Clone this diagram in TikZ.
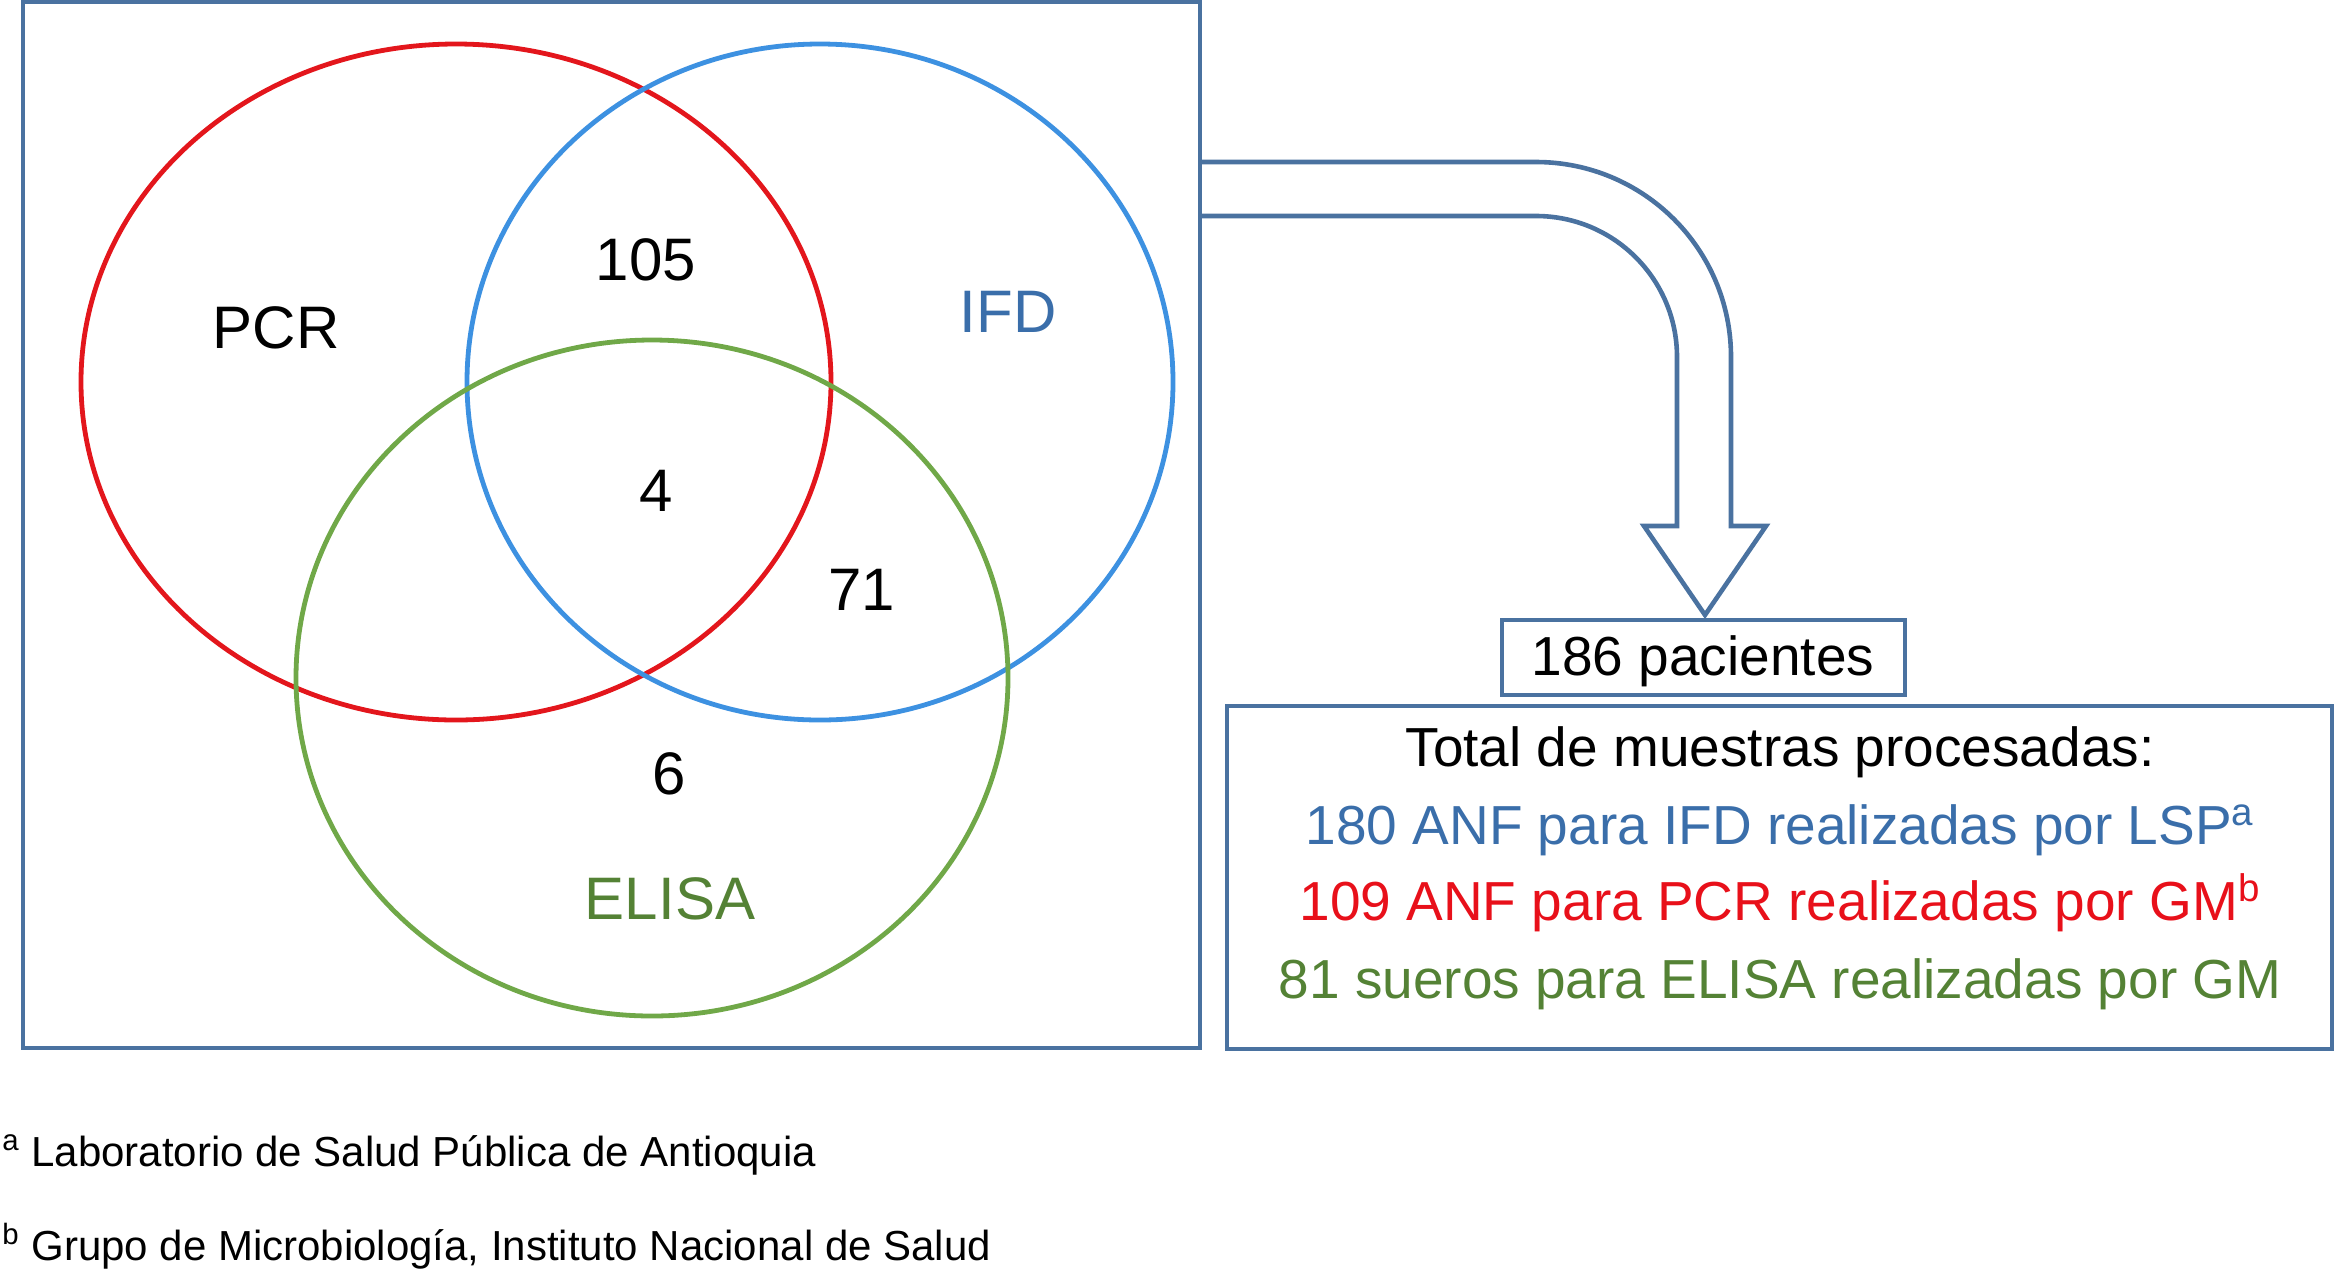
\documentclass[tikz,border=0pt]{standalone}
\usepackage{fontspec}
\setmainfont{Liberation Sans}
\usetikzlibrary{fit}
\definecolor{boxcol}{HTML}{4A72A0}
\definecolor{pcrred}{HTML}{E3161C}
\definecolor{ifdblue}{HTML}{3D91E1}
\definecolor{elisagreen}{HTML}{70A848}
\definecolor{ifdtext}{HTML}{3A6EAA}
\definecolor{pcrtext}{HTML}{E8101A}
\definecolor{elisatext}{HTML}{548235}
\tikzset{
  vennring/.style={line width=2.4pt},
  framebox/.style={draw=boxcol, line width=2.4pt, inner sep=0pt},
  venntxt/.style={font=\fontsize{30}{36}\selectfont, anchor=base, inner sep=0pt},
  boxtxt/.style={font=\fontsize{27.5}{33}\selectfont, anchor=base, inner sep=0pt},
  foottxt/.style={font=\fontsize{21}{25}\selectfont, anchor=base west, inner sep=0pt},
  bigarrow/.style={draw=boxcol, line width=2.3pt, line join=miter}
}
\begin{document}
\begin{tikzpicture}[x=0.5pt,y=-0.5pt]
\useasboundingbox (0,0) rectangle (2336,1271);
% frames
\node[framebox, fit={(23,2) (1200,1048)}] (vennbox) {};
\node[framebox, fit={(1502,620) (1905,695)}] (countbox) {};
\node[framebox, fit={(1227,706) (2332,1049)}] (totalbox) {};
% Venn rings
\draw[vennring, draw=pcrred] (456,382) ellipse [x radius=375, y radius=338];
\draw[vennring, draw=ifdblue] (820,382) ellipse [x radius=353, y radius=338];
\draw[vennring, draw=elisagreen] (652,678) ellipse [x radius=356, y radius=338];
% Venn labels
\node[venntxt] (pcr) at (276,348) {PCR};
\node[venntxt] (n105) at (646,280) {105};
\node[venntxt, text=ifdtext] (ifd) at (1008,332) {IFD};
\node[venntxt] (n4) at (656,511) {4};
\node[venntxt] (n71) at (862,610) {71};
\node[venntxt] (n6) at (669,794) {6};
\node[venntxt, text=elisatext] (elisa) at (670,919) {ELISA};
% bent block arrow
\coordinate (arrowtip) at (1705,615);
\draw[bigarrow] (1200,162) -- (1536,162)
  .. controls (1643.7,162) and (1731,249.3) .. (1731,357)
  -- (1731,526) -- (1766,526) -- (arrowtip) -- (1644,526) -- (1677,526)
  -- (1677,357) .. controls (1677,279.1) and (1613.9,216) .. (1536,216)
  -- (1200,216);
% texts on the right
\node[boxtxt] (count) at (1703,675) {186 pacientes};
\node[boxtxt] (total) at (1780,766) {Total de muestras procesadas:};
\node[boxtxt, text=ifdtext] (ifdline) at (1780,844) {180 ANF para IFD realizadas por LSP\textsuperscript{a}};
\node[boxtxt, text=pcrtext] (pcrline) at (1780,920) {109 ANF para PCR realizadas por GM\textsuperscript{b}};
\node[boxtxt, text=elisatext] (elisaline) at (1780,998) {81 sueros para ELISA realizadas por GM};
% footnotes
\node[foottxt] (fna) at (2,1166) {\textsuperscript{a} Laboratorio de Salud Pública de Antioquia};
\node[foottxt] (fnb) at (2,1260) {\textsuperscript{b} Grupo de Microbiología, Instituto Nacional de Salud};
\end{tikzpicture}
\end{document}
